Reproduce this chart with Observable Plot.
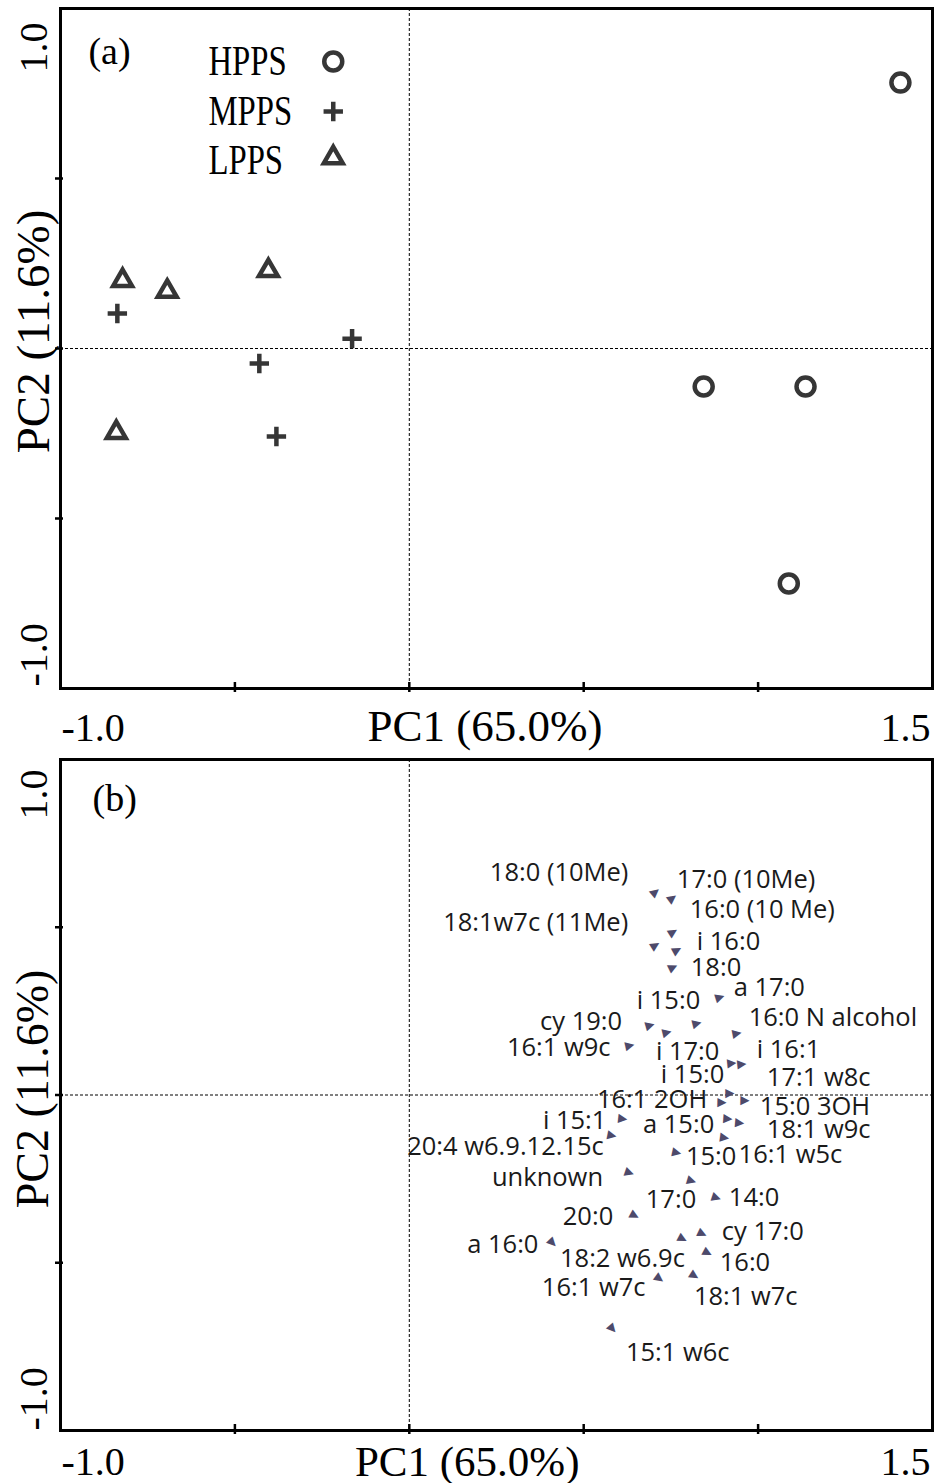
<!DOCTYPE html>
<html>
<head>
<meta charset="utf-8">
<script src="https://cdn.jsdelivr.net/npm/d3@7"></script>
<script src="https://cdn.jsdelivr.net/npm/@observablehq/plot@0.6"></script>
<style>
  html, body { margin: 0; padding: 0; background: #fff; }
  svg { display: block; }
</style>
</head>
<body>
<div id="chart"></div>
<script>
// ---------- data ----------
const groups = ["HPPS", "MPPS", "LPPS"];
const hppsX = [1.408, 0.844, 1.136, 1.088];
const hppsY = [0.782, -0.112, -0.112, -0.691];
const mppsX = [-0.837, -0.430, -0.164, -0.381];
const mppsY = [0.103, -0.044, 0.029, -0.259];
const lppsX = [-0.822, -0.694, -0.404, -0.840];
const lppsY = [0.200, 0.168, 0.229, -0.247];

const fattyAcids = ["18:0 (10Me)", "17:0 (10Me)", "16:0 (10 Me)", "18:1w7c (11Me)", "i 16:0", "18:0", "a 17:0", "i 15:0", "cy 19:0", "16:0 N alcohol", "16:1 w9c", "i 17:0", "i 16:1", "i 15:0", "17:1 w8c", "16:1 2OH", "15:0 3OH", "i 15:1", "a 15:0", "18:1 w9c", "20:4 w6.9.12.15c", "15:0", "16:1 w5c", "unknown", "17:0", "14:0", "20:0", "cy 17:0", "a 16:0", "18:2 w6.9c", "16:0", "16:1 w7c", "18:1 w7c", "15:1 w6c"];
const arrowX = [0.704, 0.753, 0.755, 0.704, 0.767, 0.755, 0.890, 0.824, 0.690, 0.939, 0.632, 0.738, 0.953, 0.924, 0.919, 0.896, 0.962, 0.612, 0.913, 0.947, 0.581, 0.767, 0.904, 0.632, 0.810, 0.881, 0.647, 0.841, 0.412, 0.784, 0.856, 0.718, 0.818, 0.584];
const arrowY = [0.606, 0.588, 0.487, 0.448, 0.433, 0.382, 0.293, 0.215, 0.209, 0.185, 0.149, 0.188, 0.093, 0.096, 0.006, -0.021, -0.015, -0.069, -0.069, -0.081, -0.119, -0.170, -0.125, -0.230, -0.254, -0.304, -0.358, -0.412, -0.439, -0.427, -0.469, -0.546, -0.537, -0.696];
const labelX = [0.231, 0.767, 0.804, 0.097, 0.824, 0.807, 0.930, 0.652, 0.375, 0.973, 0.280, 0.707, 0.996, 0.721, 1.025, 0.538, 1.005, 0.383, 0.670, 1.025, -0.006, 0.793, 0.944, 0.237, 0.678, 0.916, 0.440, 0.896, 0.166, 0.432, 0.890, 0.380, 0.816, 0.621];
const labelY = [0.663, 0.642, 0.552, 0.513, 0.457, 0.379, 0.319, 0.281, 0.218, 0.230, 0.140, 0.128, 0.134, 0.060, 0.051, -0.015, -0.036, -0.078, -0.090, -0.104, -0.155, -0.185, -0.179, -0.248, -0.313, -0.307, -0.364, -0.409, -0.448, -0.487, -0.499, -0.576, -0.603, -0.767];

const xTicks = [-1, -0.5, 0, 0.5, 1, 1.5];
const yTicks = [-1, -0.5, 0, 0.5, 1];
const xTickLabels = ["-1.0", "1.5"];
const yTickLabels = ["1.0", "-1.0"];
const xTitle = "PC1 (65.0%)";
const yTitle = "PC2 (11.6%)";
const panelLabels = ["(a)", "(b)"];

// legend entries (positions in data units of panel a)
const legendSymbolX = -0.218;
const legendTextX = -0.576;
const legendY = [0.844, 0.697, 0.553];

// ---------- layout / style ----------
const W = 943;
const xDomain = [-1, 1.5];
const yDomain = [-1, 1];
const serif = "Liberation Serif, Times New Roman, serif";
const sans = "Open Sans, Noto Sans, sans-serif";
const markerColor = "#363636";
const arrowColor = "#4d4a6b";
const mL = 60, mR = 11;

const hpps = hppsX.map((x, i) => ({x, y: hppsY[i]}));
const mpps = mppsX.map((x, i) => ({x, y: mppsY[i]}));
const lpps = lppsX.map((x, i) => ({x, y: lppsY[i]}));

function frameMarks(o) {
  return [
    Plot.ruleX([0], {stroke: "#000", strokeWidth: 1, strokeDasharray: "3,2"}),
    Plot.ruleY([0], {stroke: "#000", strokeWidth: 1, strokeDasharray: "3,2"}),
    Plot.frame({stroke: "#000", strokeWidth: 3}),
    Plot.ruleX(xTicks.slice(1, -1), {y1: yDomain[0], y2: yDomain[0], insetTop: -6, insetBottom: -4, stroke: "#000", strokeWidth: 2.5}),
    Plot.ruleY(yTicks.slice(1, -1), {x1: xDomain[0], x2: xDomain[0], insetLeft: -5, insetRight: -3, stroke: "#000", strokeWidth: 2.5}),
    // x tick labels
    Plot.text([xTickLabels[0]], {x: xDomain[0], y: yDomain[0], text: d => d, textAnchor: "start", lineAnchor: "middle", dx: 1, dy: o.xLabDy, fontSize: 40, fontFamily: serif, fill: "#000"}),
    Plot.text([xTickLabels[1]], {x: xDomain[1], y: yDomain[0], text: d => d, textAnchor: "end", lineAnchor: "middle", dx: -2, dy: o.xLabDy, fontSize: 40, fontFamily: serif, fill: "#000"}),
    // y tick labels (rotated)
    Plot.text([yTickLabels[0]], {x: xDomain[0], y: yDomain[1], text: d => d, rotate: -90, textAnchor: "end", lineAnchor: "middle", dx: -26, dy: o.yTopDy, fontSize: 40, fontFamily: serif, fill: "#000"}),
    Plot.text([yTickLabels[1]], {x: xDomain[0], y: yDomain[0], text: d => d, rotate: -90, textAnchor: "start", lineAnchor: "middle", dx: -26, dy: o.yBotDy, fontSize: 40, fontFamily: serif, fill: "#000"}),
    // axis titles
    Plot.text([xTitle], {x: o.xTitleX, y: yDomain[0], text: d => d, lineAnchor: "middle", dy: o.xTitleDy, fontSize: o.xTitleSize, fontFamily: serif, fill: "#000"}),
    Plot.text([yTitle], {x: xDomain[0], y: o.yTitleY, text: d => d, rotate: -90, lineAnchor: "middle", dx: -27, fontSize: o.yTitleSize, fontFamily: serif, fill: "#000"}),
    // panel label
    Plot.text([o.panel], {x: o.panelX, y: o.panelY, text: d => d, textAnchor: "start", lineAnchor: "middle", fontSize: 38, fontFamily: serif, fill: "#000"})
  ];
}

// ---------- panel (a) ----------
const topH = 752;
const plotA = Plot.plot({
  width: W, height: topH,
  marginLeft: mL, marginRight: mR, marginTop: 8, marginBottom: 64,
  x: {domain: xDomain, axis: null},
  y: {domain: yDomain, axis: null},
  style: {background: "#fff", overflow: "visible"},
  marks: [
    ...frameMarks({xLabDy: 40, yTopDy: 14, yBotDy: -2, xTitleX: 0.217, xTitleDy: 38, xTitleSize: 45, yTitleY: 0.05, yTitleSize: 47, panel: panelLabels[0], panelX: -0.92, panelY: 0.874}),
    Plot.dot(hpps, {x: "x", y: "y", symbol: "circle", r: 9, stroke: markerColor, strokeWidth: 4.5, fill: "none"}),
    Plot.dot(mpps, {x: "x", y: "y", symbol: "plus", r: 6.3, stroke: markerColor, strokeWidth: 4.5}),
    Plot.dot(lpps, {x: "x", y: "y", symbol: "triangle2", r: 9, stroke: markerColor, strokeWidth: 4.5, fill: "none"}),
    // legend
    Plot.dot([groups[0]], {x: legendSymbolX, y: legendY[0], symbol: "circle", r: 9, stroke: markerColor, strokeWidth: 4.5, fill: "none"}),
    Plot.dot([groups[1]], {x: legendSymbolX, y: legendY[1], symbol: "plus", r: 6.3, stroke: markerColor, strokeWidth: 4.5}),
    Plot.dot([groups[2]], {x: legendSymbolX, y: legendY[2] + 0.008, symbol: "triangle2", r: 9, stroke: markerColor, strokeWidth: 4.5, fill: "none"}),
    Plot.text(groups, {x: legendTextX, y: (d, i) => legendY[i], text: d => d, textAnchor: "start", lineAnchor: "middle", fontSize: 42, fontFamily: serif, fill: "#000", ariaDescription: "condensed"})
  ]
});

// ---------- panel (b) ----------
const botH = 1483 - topH;
const botMT = 7, botMB = 53;
const pxX = (W - mL - mR) / (xDomain[1] - xDomain[0]);
const pxY = (botH - botMT - botMB) / (yDomain[1] - yDomain[0]);
const arrows = fattyAcids.map((name, i) => ({
  name, x: arrowX[i], y: arrowY[i],
  angle: -Math.atan2(arrowY[i] * pxY, arrowX[i] * pxX) * 180 / Math.PI
}));

const plotB = Plot.plot({
  width: W, height: botH,
  marginLeft: mL, marginRight: mR, marginTop: botMT, marginBottom: botMB,
  x: {domain: xDomain, axis: null},
  y: {domain: yDomain, axis: null},
  style: {background: "#fff", overflow: "visible"},
  marks: [
    ...frameMarks({xLabDy: 32, yTopDy: 10, yBotDy: 0, xTitleX: 0.166, xTitleDy: 32, xTitleSize: 43, yTitleY: 0.018, yTitleSize: 46, panel: panelLabels[1], panelX: -0.908, panelY: 0.884}),
    Plot.text(arrows, {x: "x", y: "y", text: () => "\u25B6", rotate: "angle", fontSize: 12, fontFamily: "DejaVu Sans", fill: arrowColor, lineAnchor: "middle"}),
    Plot.text(fattyAcids, {x: labelX, y: labelY, text: d => d, textAnchor: "start", lineAnchor: "middle", fontSize: 25.5, fontFamily: sans, fill: "#1a1a1a"})
  ]
});

const chart = document.getElementById("chart");
chart.appendChild(plotA);
chart.appendChild(plotB);

// condensed legend text, as in the reference
document.querySelectorAll('g[aria-description="condensed"] text').forEach(t => {
  const L = t.getComputedTextLength();
  t.setAttribute("textLength", (L * 0.78).toFixed(1));
  t.setAttribute("lengthAdjust", "spacingAndGlyphs");
});
</script>
</body>
</html>
